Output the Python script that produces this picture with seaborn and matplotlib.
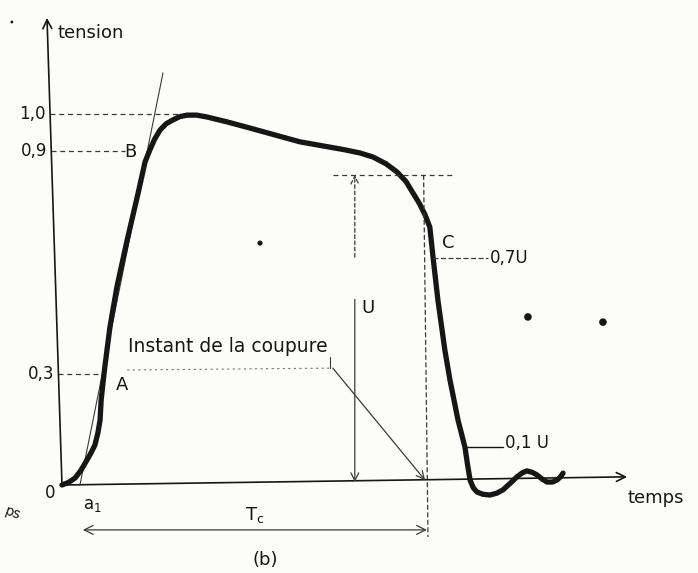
import matplotlib
matplotlib.use('Agg')
import matplotlib.pyplot as plt
import seaborn as sns
import pandas as pd

# time axis: cut-off instant at t = 1 ; tension axis: 1,0 = full scale
curve_t = [0.000, 0.018, 0.036, 0.052, 0.068, 0.080, 0.090, 0.098, 0.104, 0.107,
           0.112, 0.117, 0.131, 0.150, 0.178, 0.208, 0.227, 0.240, 0.253, 0.268,
           0.285, 0.303, 0.322, 0.342, 0.368, 0.396, 0.450, 0.514, 0.580, 0.650,
           0.730, 0.770, 0.814, 0.850, 0.885, 0.915, 0.940, 0.959, 0.977, 0.992,
           1.005, 1.014, 1.027, 1.046, 1.060, 1.082, 1.101, 1.108, 1.115, 1.124,
           1.134, 1.150, 1.169, 1.188, 1.205, 1.225, 1.243, 1.258, 1.270, 1.285,
           1.298, 1.312, 1.325, 1.340, 1.352, 1.362, 1.369]
curve_v = [0.000, 0.007, 0.019, 0.040, 0.067, 0.088, 0.108, 0.140, 0.175, 0.229,
           0.275, 0.318, 0.426, 0.534, 0.660, 0.787, 0.871, 0.903, 0.932, 0.957,
           0.974, 0.984, 0.993, 0.997, 0.997, 0.992, 0.979, 0.962, 0.944, 0.925,
           0.911, 0.904, 0.895, 0.884, 0.866, 0.844, 0.818, 0.787, 0.758, 0.728,
           0.695, 0.612, 0.499, 0.364, 0.283, 0.175, 0.102, 0.055, 0.013, -0.008,
           -0.019, -0.025, -0.027, -0.022, -0.013, 0.005, 0.022, 0.033, 0.038, 0.034,
           0.027, 0.016, 0.008, 0.008, 0.013, 0.022, 0.032]

level_values = [1.0, 0.9, 0.3]
level_labels = ['1,0', '0,9', '0,3']
level_ends = [0.322, 0.172, 0.104]       # where each dashed guide stops

tangent_t = [0.049, 0.276]
tangent_v = [0.0, 1.111]

t_cut = 1.0
u_level = 0.836
u_frac_labels = ['0,7U', '0,1 U']
u_frac_values = [0.612, 0.102]

dots_t = [0.541, 1.273, 1.478, -0.137]
dots_v = [0.652, 0.453, 0.439, 1.248]
dots_size = [14, 30, 30, 4]

ink = '#161616'
guide = '#3a3a3a'

sns.set_theme(style='white')
plt.rcParams['font.family'] = ['DejaVu Sans']

fig = plt.figure(figsize=(6.98, 5.73), dpi=100)
fig.patch.set_facecolor('#fcfcf9')
ax = fig.add_axes([0, 0, 1, 1])
ax.set_facecolor('#fcfcf9')
ax.set_xlim(-0.1694, 1.7377)
ax.set_ylim(-0.2372, 1.3073)
ax.axis('off')

arrow_kw = dict(arrowstyle='->', color=ink, lw=1.2, mutation_scale=16,
                shrinkA=0, shrinkB=0)
thin_kw = dict(arrowstyle='->', color=guide, lw=0.9, mutation_scale=14,
               shrinkA=0, shrinkB=0)

# axes (hand drawn, slightly tilted)
ax.annotate('', xy=(-0.041, 1.259), xytext=(0, 0), arrowprops=arrow_kw)
ax.annotate('', xy=(1.544, 0.022), xytext=(0, 0), arrowprops=arrow_kw)
ax.text(-0.011, 1.218, 'tension', fontsize=13, color=ink, va='center')
ax.text(1.546, -0.035, 'temps', fontsize=13, color=ink, va='center')
ax.text(-0.033, -0.022, '0', fontsize=12, color=ink, ha='center', va='center')
ax.text(0.082, -0.054, 'a$_1$', fontsize=12, color=ink, ha='center', va='center')
ax.text(-0.134, -0.075, 'ps', fontsize=10, color=ink, ha='center', va='center',
        rotation=-20)

# reference levels on the rising edge
for val, lab, end in zip(level_values, level_labels, level_ends):
    x0 = -0.041 * val / 1.259
    ax.plot([x0, end], [val, val], ls=(0, (4, 3)), lw=0.9, color=guide)
    ax.text(x0 - 0.012, val, lab, fontsize=12, color=ink, ha='right', va='center')

# tangent at the foot of the rise
sns.lineplot(x=tangent_t, y=tangent_v, ax=ax, color=guide, lw=0.8,
             estimator=None, sort=False)

# main waveform
df = pd.DataFrame({'t': curve_t, 'v': curve_v})
sns.lineplot(data=df, x='t', y='v', ax=ax, color=ink, lw=3.8,
             estimator=None, sort=False, solid_capstyle='round',
             solid_joinstyle='round')

ax.text(0.164, 0.27, 'A', fontsize=13, color=ink, ha='center', va='center')
ax.text(0.186, 0.898, 'B', fontsize=13, color=ink, ha='center', va='center')
ax.text(1.055, 0.652, 'C', fontsize=13, color=ink, ha='center', va='center')

# U level and cut-off instant
ax.plot([0.740, 1.066], [u_level, u_level], ls=(0, (4, 3)), lw=0.9, color=guide)
ax.plot([0.988, t_cut], [u_level, -0.140], ls=(0, (4, 2)), lw=0.9, color=guide)
ax.annotate('', xy=(0.80, u_level), xytext=(0.80, 0.614),
            arrowprops=dict(thin_kw, linestyle=(0, (3, 2))))
ax.annotate('', xy=(0.80, 0.008), xytext=(0.80, 0.50), arrowprops=thin_kw)
ax.text(0.836, 0.477, 'U', fontsize=13, color=ink, ha='center', va='center')

# fractions of U on the falling edge
ax.plot([1.014, 1.164], [u_frac_values[0]] * 2, ls=(0, (4, 2)), lw=0.9, color=guide)
ax.text(1.169, u_frac_values[0], u_frac_labels[0], fontsize=12, color=ink,
        va='center')
ax.plot([1.101, 1.205], [u_frac_values[1]] * 2, lw=1.0, color=ink)
ax.text(1.210, u_frac_values[1] + 0.012, u_frac_labels[1], fontsize=12, color=ink,
        va='center')

# "Instant de la coupure" annotation
ax.text(0.18, 0.372, 'Instant de la coupure', fontsize=13.5, color=ink, va='center')
ax.plot([0.178, 0.732], [0.31, 0.315], ls=(0, (2, 3)), lw=0.8, color='#777777')
ax.plot([0.732, 0.732], [0.315, 0.345], lw=0.8, color=guide)
ax.annotate('', xy=(0.992, 0.013), xytext=(0.740, 0.315), arrowprops=thin_kw)

# Tc duration
ax.annotate('', xy=(0.997, -0.121), xytext=(0.057, -0.121),
            arrowprops=dict(arrowstyle='<->', color=guide, lw=0.9,
                            mutation_scale=16, shrinkA=0, shrinkB=0))
ax.text(0.527, -0.081, r'T$_\mathrm{c}$', fontsize=13, color=ink, ha='center',
        va='center')
ax.text(0.555, -0.202, '(b)', fontsize=13, color=ink, ha='center', va='center')

# stray marks on the scan
sns.scatterplot(x=dots_t, y=dots_v, size=dots_size, sizes=(4, 30), ax=ax,
                color=ink, legend=False, edgecolor='none')

fig.savefig('out.png', dpi=100, facecolor=fig.get_facecolor())
